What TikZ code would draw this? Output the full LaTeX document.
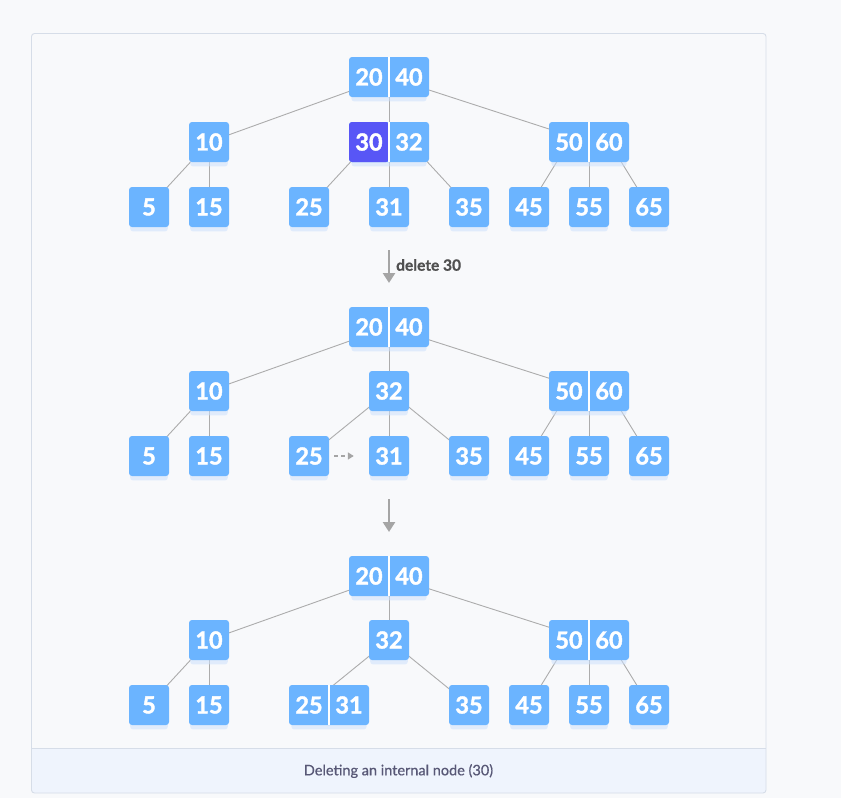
\documentclass[tikz,border=0pt]{standalone}
\usepackage{fontspec}
\setmainfont{Lato}
\newfontfamily\heavyfam{Lato}[BoldFeatures={FakeBold=1.6}]
\newfontfamily\medfam{Lato}[BoldFeatures={FakeBold=0.8}]
\newfontfamily\capfam{Lato}[UprightFeatures={FakeBold=0.6}]
\usetikzlibrary{arrows.meta,shadows}
\definecolor{keyblue}{RGB}{107,180,255}
\definecolor{keypurple}{RGB}{88,86,246}
\definecolor{edgegray}{RGB}{172,172,172}
\definecolor{arrowgray}{RGB}{165,165,165}
\definecolor{pagebg}{RGB}{248,249,251}
\definecolor{framec}{RGB}{214,221,232}
\definecolor{capbg}{RGB}{239,244,253}
\definecolor{captxt}{RGB}{88,88,118}
\definecolor{lbltxt}{RGB}{80,80,80}
\definecolor{shadowblue}{RGB}{205,225,252}
\pgfdeclarelayer{bg}
\pgfdeclarelayer{edges}
\pgfsetlayers{bg,edges,main}
\begin{document}
\begin{tikzpicture}[x=1pt,y=-1pt,
  box/.style={fill=keyblue, rounded corners=3pt, inner sep=0pt,
    general shadow={fill=shadowblue, fill opacity=0.55, shadow yshift=-6pt, shadow scale=0.94}},
  keyfont/.style={font=\heavyfam\fontsize{23.5}{23.5}\selectfont\bfseries, text=white},
  onekey/.style={box, keyfont, minimum width=40pt, minimum height=40pt},
  twokey/.style={box, minimum width=80pt, minimum height=40pt},
  keytxt/.style={keyfont, inner sep=0pt},
  hot/.style={keyfont, fill=keypurple, rounded corners=3pt, inner sep=0pt, minimum width=40pt, minimum height=40pt},
  sep/.style={white, line width=1.1pt},
  edge/.style={edgegray, line width=0.9pt},
  bigarrow/.style={arrowgray, line width=2.6pt, -{Triangle[width=12pt,length=10pt]}},
  dasharrow/.style={arrowgray, line width=1.4pt, dash pattern=on 4pt off 3pt, -{Triangle[width=7pt,length=6pt]}}
]
\useasboundingbox (0,0) rectangle (841,798);
\begin{pgfonlayer}{bg}
  \fill[pagebg] (0,0) rectangle (841,798);
  \fill[pagebg, rounded corners=3pt] (31.5,33.5) rectangle (766,793);
  \fill[capbg, rounded corners=3pt] (31.5,740) rectangle (766,793);
  \fill[pagebg] (31.5,738) rectangle (766,748);
  \draw[framec, line width=0.9pt] (31.5,748) -- (766,748);
  \draw[framec, line width=0.9pt, rounded corners=3pt] (31.5,33.5) rectangle (766,793);
\end{pgfonlayer}

% ---------- Tree 1 ----------
\node[twokey] (t1r) at (389,77) {};
\node[keytxt] (t1r20) at ([xshift=-20pt]t1r.center) {20};
\node[keytxt] (t1r40) at ([xshift=20pt]t1r.center) {40};
\draw[sep] (t1r.north) -- (t1r.south);
\node[onekey] (t1a) at (209,142) {10};
\node[twokey] (t1b) at (389,142) {};
\node[hot] (t1b30) at ([xshift=-20pt]t1b.center) {30};
\node[keytxt] (t1b32) at ([xshift=20pt]t1b.center) {32};
\draw[sep] (t1b.north) -- (t1b.south);
\node[twokey] (t1c) at (589,142) {};
\node[keytxt] (t1c50) at ([xshift=-20pt]t1c.center) {50};
\node[keytxt] (t1c60) at ([xshift=20pt]t1c.center) {60};
\draw[sep] (t1c.north) -- (t1c.south);
\node[onekey] (t1l5) at (149,207) {5};
\node[onekey] (t1l15) at (209,207) {15};
\node[onekey] (t1l25) at (309,207) {25};
\node[onekey] (t1l31) at (389,207) {31};
\node[onekey] (t1l35) at (469,207) {35};
\node[onekey] (t1l45) at (529,207) {45};
\node[onekey] (t1l55) at (589,207) {55};
\node[onekey] (t1l65) at (649,207) {65};
\begin{pgfonlayer}{edges}
  \draw[edge] (t1r.center) -- (t1a.center);
  \draw[edge] (t1r.center) -- (t1b.center);
  \draw[edge] (t1r.center) -- (t1c.center);
  \draw[edge] (t1a.center) -- (t1l5.center);
  \draw[edge] (t1a.center) -- (t1l15.center);
  \draw[edge] (t1b30.center) -- (t1l25.center);
  \draw[edge] (t1b.center) -- (t1l31.center);
  \draw[edge] (t1b32.center) -- (t1l35.center);
  \draw[edge] (t1c50.center) -- (t1l45.center);
  \draw[edge] (t1c.center) -- (t1l55.center);
  \draw[edge] (t1c60.center) -- (t1l65.center);
\end{pgfonlayer}

% ---------- Arrow 1 ----------
\coordinate (a1s) at (389,250);
\coordinate (a1e) at (389,283);
\draw[bigarrow] (a1s) -- (a1e);
\node[anchor=west, inner sep=0pt, text=lbltxt, font=\medfam\fontsize{15.5}{15.5}\selectfont\bfseries] (a1lbl) at (396,265) {delete 30};

% ---------- Tree 2 ----------
\node[twokey] (t2r) at (389,327) {};
\node[keytxt] (t2r20) at ([xshift=-20pt]t2r.center) {20};
\node[keytxt] (t2r40) at ([xshift=20pt]t2r.center) {40};
\draw[sep] (t2r.north) -- (t2r.south);
\node[onekey] (t2a) at (209,391) {10};
\node[onekey] (t2b) at (389,391) {32};
\node[twokey] (t2c) at (589,391) {};
\node[keytxt] (t2c50) at ([xshift=-20pt]t2c.center) {50};
\node[keytxt] (t2c60) at ([xshift=20pt]t2c.center) {60};
\draw[sep] (t2c.north) -- (t2c.south);
\node[onekey] (t2l5) at (149,456) {5};
\node[onekey] (t2l15) at (209,456) {15};
\node[onekey] (t2l25) at (309,456) {25};
\node[onekey] (t2l31) at (389,456) {31};
\node[onekey] (t2l35) at (469,456) {35};
\node[onekey] (t2l45) at (529,456) {45};
\node[onekey] (t2l55) at (589,456) {55};
\node[onekey] (t2l65) at (649,456) {65};
\begin{pgfonlayer}{edges}
  \draw[edge] (t2r.center) -- (t2a.center);
  \draw[edge] (t2r.center) -- (t2b.center);
  \draw[edge] (t2r.center) -- (t2c.center);
  \draw[edge] (t2a.center) -- (t2l5.center);
  \draw[edge] (t2a.center) -- (t2l15.center);
  \draw[edge] (t2b.center) -- (t2l25.center);
  \draw[edge] (t2b.center) -- (t2l31.center);
  \draw[edge] (t2b.center) -- (t2l35.center);
  \draw[edge] (t2c50.center) -- (t2l45.center);
  \draw[edge] (t2c.center) -- (t2l55.center);
  \draw[edge] (t2c60.center) -- (t2l65.center);
\end{pgfonlayer}
\draw[dasharrow] ([xshift=5pt]t2l25.east) -- ([xshift=-15pt]t2l31.west);

% ---------- Arrow 2 ----------
\coordinate (a2s) at (389,499);
\coordinate (a2e) at (389,532);
\draw[bigarrow] (a2s) -- (a2e);

% ---------- Tree 3 ----------
\node[twokey] (t3r) at (389,576) {};
\node[keytxt] (t3r20) at ([xshift=-20pt]t3r.center) {20};
\node[keytxt] (t3r40) at ([xshift=20pt]t3r.center) {40};
\draw[sep] (t3r.north) -- (t3r.south);
\node[onekey] (t3a) at (209,640) {10};
\node[onekey] (t3b) at (389,640) {32};
\node[twokey] (t3c) at (589,640) {};
\node[keytxt] (t3c50) at ([xshift=-20pt]t3c.center) {50};
\node[keytxt] (t3c60) at ([xshift=20pt]t3c.center) {60};
\draw[sep] (t3c.north) -- (t3c.south);
\node[onekey] (t3l5) at (149,705) {5};
\node[onekey] (t3l15) at (209,705) {15};
\node[twokey] (t3d) at (329,705) {};
\node[keytxt] (t3d25) at ([xshift=-20pt]t3d.center) {25};
\node[keytxt] (t3d31) at ([xshift=20pt]t3d.center) {31};
\draw[sep] (t3d.north) -- (t3d.south);
\node[onekey] (t3l35) at (469,705) {35};
\node[onekey] (t3l45) at (529,705) {45};
\node[onekey] (t3l55) at (589,705) {55};
\node[onekey] (t3l65) at (649,705) {65};
\begin{pgfonlayer}{edges}
  \draw[edge] (t3r.center) -- (t3a.center);
  \draw[edge] (t3r.center) -- (t3b.center);
  \draw[edge] (t3r.center) -- (t3c.center);
  \draw[edge] (t3a.center) -- (t3l5.center);
  \draw[edge] (t3a.center) -- (t3l15.center);
  \draw[edge] (t3b.center) -- (t3d25.center);
  \draw[edge] (t3b.center) -- (t3l35.center);
  \draw[edge] (t3c50.center) -- (t3l45.center);
  \draw[edge] (t3c.center) -- (t3l55.center);
  \draw[edge] (t3c60.center) -- (t3l65.center);
\end{pgfonlayer}

% ---------- Caption ----------
\node[text=captxt, font=\capfam\fontsize{14.5}{14.5}\selectfont, inner sep=0pt] (cap) at (398.5,771) {Deleting an internal node (30)};
\end{tikzpicture}
\end{document}
